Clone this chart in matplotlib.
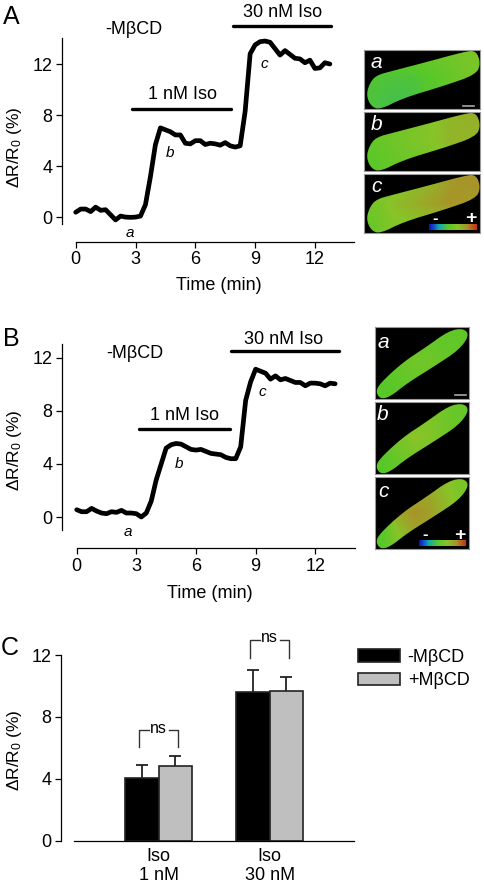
import matplotlib
matplotlib.use("Agg")
import matplotlib.pyplot as plt
from matplotlib.colors import LinearSegmentedColormap
from matplotlib.patches import Polygon

plt.rcParams["font.family"] = ["Liberation Sans", "DejaVu Sans"]
plt.rcParams["font.size"] = 13
plt.rcParams["mathtext.fontset"] = "custom"
plt.rcParams["mathtext.rm"] = "Liberation Sans"
plt.rcParams["mathtext.default"] = "regular"

W, H = 484, 885
YLABEL = r"ΔR/R$_0$ (%)"

# Panel A trace, one reading every 0.25 min
time_a = [i * 0.25 for i in range(52)]
trace_a = [0.4, 0.65, 0.65, 0.45, 0.8, 0.55, 0.6, 0.2, -0.2, 0.1, 0.02, 0.0, 0.02,
           0.1, 1.0, 3.2, 5.7, 7.0, 6.85, 6.7, 6.45, 6.45, 5.8, 5.75, 6.0, 6.0, 5.7,
           5.8, 5.75, 5.65, 5.85, 5.6, 5.5, 5.6, 8.3, 12.8, 13.5, 13.75, 13.8, 13.7,
           13.2, 12.7, 13.05, 12.75, 12.45, 12.4, 12.1, 12.3, 11.65, 11.7, 12.1, 12.0]

# Panel B trace
time_b = [i * 0.25 for i in range(53)]
trace_b = [0.55, 0.4, 0.4, 0.65, 0.45, 0.3, 0.25, 0.4, 0.35, 0.5, 0.3, 0.3, 0.25,
           0.0, 0.3, 1.2, 2.8, 4.0, 5.2, 5.45, 5.55, 5.5, 5.3, 5.1, 5.05, 5.1, 4.95,
           4.8, 4.75, 4.7, 4.5, 4.4, 4.4, 5.3, 8.8, 10.2, 11.15, 11.0, 10.85, 10.4,
           10.65, 10.35, 10.45, 10.3, 10.15, 10.15, 9.9, 10.1, 10.1, 10.05, 9.9, 10.1, 10.05]

# Panel C bars
groups = ["Iso\n1 nM", "Iso\n30 nM"]
mean_minus = [4.05, 9.6]
mean_plus = [4.8, 9.65]
top_minus = [4.9, 11.0]
top_plus = [5.45, 10.55]

# Cell outlines, in zoomed pixels of the first image of each column
outline_a = [(28, 132), (48, 106), (100, 92), (200, 66), (310, 36), (348, 31), (362, 70),
             (348, 104), (250, 138), (130, 174), (60, 209), (33, 199), (19, 166)]
outline_b = [(49, 217), (57, 193), (128, 127), (198, 81), (268, 31), (312, 24), (329, 45),
             (298, 89), (222, 139), (142, 189), (92, 229), (63, 236)]

# Rough response level over each image (0 blue, 0.35 green, 1 red)
cell_a_a = [[.42, .42, .42, .46, .5, .54], [.38, .37, .37, .4, .46, .52], [.37, .35, .36, .4, .44, .44]]
cell_a_b = [[.46, .48, .54, .58, .66, .68], [.44, .5, .54, .6, .66, .66], [.42, .46, .5, .52, .52, .52]]
cell_a_c = [[.5, .56, .62, .68, .78, .8], [.52, .62, .68, .74, .8, .76], [.48, .58, .6, .6, .6, .6]]
cell_b_a = [[.44, .44, .46, .46, .44, .44], [.42, .46, .5, .5, .46, .44], [.4, .42, .46, .46, .44, .44]]
cell_b_b = [[.46, .5, .54, .56, .5, .46], [.42, .54, .6, .58, .5, .46], [.4, .46, .52, .52, .48, .46]]
cell_b_c = [[.52, .6, .68, .7, .62, .54], [.44, .72, .8, .76, .66, .58], [.4, .58, .7, .72, .6, .54]]

response_cmap = LinearSegmentedColormap.from_list(
    "response", ["#1010d0", "#10a8b0", "#58c828", "#88c428", "#a89428", "#c83418"])


def px_axes(x0, y0, x1, y1):
    """Axes from picture pixel edges."""
    return plt.gcf().add_axes([x0 / W, 1 - y1 / H, (x1 - x0) / W, (y1 - y0) / H])


def px_text(x, y, s, **kw):
    plt.gcf().text(x / W, 1 - y / H, s, ha="center", va="center", **kw)


def round_outline(points, passes=2):
    """Corner cutting, the cells have soft ends."""
    for _ in range(passes):
        new = []
        for i, (x, y) in enumerate(points):
            nx, ny = points[(i + 1) % len(points)]
            new.append((0.75 * x + 0.25 * nx, 0.75 * y + 0.25 * ny))
            new.append((0.25 * x + 0.75 * nx, 0.25 * y + 0.75 * ny))
        points = new
    return points


def style_axes(ax, left_out, bottom_out):
    ax.spines[["top", "right"]].set_visible(False)
    ax.spines["left"].set_position(("outward", left_out * 0.72))
    ax.spines["bottom"].set_position(("outward", bottom_out * 0.72))
    ax.spines[["left", "bottom"]].set_linewidth(0.9)
    ax.tick_params(length=4, width=0.9, pad=3)
    ax.patch.set_alpha(0)


def trace_panel(ax, time, trace, ylim, xlim, bars, labels, letters):
    ax.plot(time, trace, color="black", lw=3.4, solid_capstyle="round", solid_joinstyle="round", clip_on=False)
    for x0, x1, y in bars:
        ax.plot([x0, x1], [y, y], color="black", lw=2.4, solid_capstyle="round", clip_on=False)
    for x, y, s in labels:
        ax.text(x, y, s, ha="center", va="center", clip_on=False)
    for x, y, s in letters:
        ax.text(x, y, s, ha="center", va="center", style="italic", fontsize=11, clip_on=False)
    ax.set_xlim(xlim)
    ax.set_ylim(ylim)
    ax.set_xticks([0, 3, 6, 9, 12])
    ax.set_yticks([0, 4, 8, 12])


def cell_image(box, outline, grid, letter, letter_xy, scale_bar=None, colour_key=None):
    """One micrograph, drawn in zoomed pixels of the reference."""
    ax = px_axes(*box)
    ext = (0, (box[2] - box[0]) * 3, (box[3] - box[1]) * 3, 0)
    ax.set_facecolor("black")
    for s in ax.spines.values():
        s.set_color("#9a9a9a")
        s.set_linewidth(0.8)
    im = ax.imshow(grid, cmap=response_cmap, vmin=0, vmax=1, extent=ext, aspect="auto", interpolation="bilinear")
    cell = Polygon(round_outline(outline), closed=True, transform=ax.transData, facecolor="none", edgecolor="none")
    ax.add_patch(cell)
    im.set_clip_path(cell)
    ax.text(*letter_xy, letter, color="white", style="italic", fontsize=15, ha="center", va="center")
    if scale_bar:
        ax.plot(scale_bar[:2], [scale_bar[2]] * 2, color="#a8a8a8", lw=1.2)
    if colour_key:
        x1, x2, y1, y2 = colour_key
        ax.imshow([[i / 40 for i in range(41)]], cmap=response_cmap, vmin=0, vmax=1,
                  extent=(x1, x2, y2, y1), aspect="auto")
        ax.text(x1 + 18, y1 - 18, "-", color="white", ha="center", va="center", fontsize=12, fontweight="bold")
        ax.text(x2 - 18, y1 - 16, "+", color="white", ha="center", va="center", fontsize=14, fontweight="bold")
    ax.set_xlim(ext[0], ext[1])
    ax.set_ylim(ext[2], ext[3])
    ax.set_xticks([])
    ax.set_yticks([])


fig = plt.figure(figsize=(W / 100, H / 100), dpi=100)

# A
ax_a = px_axes(75.7, 37.7, 354, 224)
trace_panel(ax_a, time_a, trace_a, (-0.52, 14.06), (0, 13.96),
            [(2.83, 7.77, 8.49), (7.88, 12.8, 14.95)],
            [(5.38, 9.6, "1 nM Iso"), (10.4, 16.07, "30 nM Iso"), (2.93, 14.7, "-MβCD")],
            [(2.72, -1.2, "a"), (4.73, 5.0, "b"), (9.47, 12.0, "c")])
style_axes(ax_a, 13.7, 17.7)

# B
ax_b = px_axes(76.7, 344.3, 355, 530)
trace_panel(ax_b, time_b, trace_b, (-0.98, 13.03), (0, 14.0),
            [(3.15, 7.72, 6.67), (7.76, 13.2, 12.5)],
            [(5.41, 7.67, "1 nM Iso"), (10.4, 13.4, "30 nM Iso"), (2.91, 12.35, "-MβCD")],
            [(2.6, -1.15, "a"), (5.17, 4.0, "b"), (9.35, 9.4, "c")])
style_axes(ax_b, 14.4, 18.3)

# C
ax_c = px_axes(74, 655, 354, 840.7)
centres = [2.53, 5.84]
left = [c - 0.5 for c in centres]
right = [c + 0.5 for c in centres]
ax_c.bar(left, mean_minus, width=1, color="black", edgecolor="#222222", lw=1.2)
ax_c.bar(right, mean_plus, width=1, color="#bfbfbf", edgecolor="#222222", lw=1.2)
for xs, means, tops in [(left, mean_minus, top_minus), (right, mean_plus, top_plus)]:
    ax_c.vlines(xs, means, tops, color="#222222", lw=1.3)
    ax_c.plot(xs, tops, "_", color="#222222", ms=8, mew=1.3, clip_on=False)
for c, top, low in zip(centres, [7.18, 13.0], [6.03, 11.8]):
    xl, xr = c - 0.58, c + 0.58
    gap = 0.3
    ax_c.plot([xl, xl, c - gap], [low, top, top], color="#333333", lw=1.0, clip_on=False)
    ax_c.plot([c + gap, xr, xr], [top, top, low], color="#333333", lw=1.0, clip_on=False)
    ax_c.text(c, top + 0.1, "ns", ha="center", va="center", fontsize=11.5, clip_on=False)
ax_c.set_xlim(0, 8.36)
ax_c.set_ylim(0, 12)
ax_c.set_yticks([0, 4, 8, 12])
ax_c.set_xticks(centres)
ax_c.set_xticklabels(groups, linespacing=1.0)
style_axes(ax_c, 12.7, 0)
ax_c.tick_params(axis="x", length=0, pad=5)
handles = [plt.Rectangle((0, 0), 1, 1, fc="black", ec="#222222", lw=1.2),
           plt.Rectangle((0, 0), 1, 1, fc="#bfbfbf", ec="#222222", lw=1.2)]
fig.legend(handles, ["-MβCD", "+MβCD"], loc="upper left", bbox_to_anchor=(358 / W, 1 - 649 / H),
           frameon=False, borderpad=0, borderaxespad=0, handlelength=2.35, handleheight=0.7,
           handletextpad=0.4, labelspacing=0.35, fontsize=13)

# axis titles
for y in [147, 450, 750]:
    px_text(15, y, YLABEL, rotation=90, fontsize=12.5)
px_text(219, 285.7, "Time (min)")
px_text(210, 593, "Time (min)")
for x, y, s in [(11, 17, "A"), (11, 339, "B"), (10, 648, "C")]:
    px_text(x, y, s, fontsize=18)

# Micrographs, column A
shifted_a = [(x - 12, y - 30) for x, y in outline_a]
cell_image((364, 50, 480, 109), shifted_a, cell_a_a, "a", (38, 38), scale_bar=(298, 330, 168))
cell_image((364, 112, 480, 171), shifted_a, cell_a_b, "b", (38, 38))
cell_image((364, 174, 480, 233), shifted_a, cell_a_c, "c", (38, 38), colour_key=(196, 338, 151, 168))

# Micrographs, column B
shifted_b = [(x - 46, y - 20) for x, y in outline_b]
cell_image((375, 327, 469, 399), shifted_b, cell_b_a, "a", (26, 48), scale_bar=(240, 272, 205))
cell_image((375, 402, 469, 474), shifted_b, cell_b_b, "b", (24, 38))
cell_image((375, 477, 469, 549), shifted_b, cell_b_c, "c", (26, 44), colour_key=(132, 272, 191, 208))

fig.savefig("out.png", dpi=100)
